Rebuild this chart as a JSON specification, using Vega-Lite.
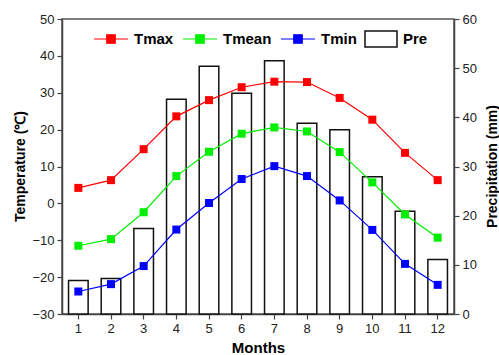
{
  "$schema": "https://vega.github.io/schema/vega-lite/v6.json",
  "autosize": {"type": "none"},
  "padding": {"left": 62, "top": 19, "right": 45, "bottom": 41},
  "width": 392,
  "height": 295,
  "background": "white",
  "config": {
    "view": {"stroke": "#555555", "strokeWidth": 1.5},
    "font": "Liberation Sans",
    "axis": {
      "domainColor": "#444444",
      "domainWidth": 1.5,
      "tickColor": "#444444",
      "tickWidth": 1.2,
      "tickSize": 5,
      "grid": false,
      "labelFont": "Liberation Sans",
      "labelFontSize": 13,
      "labelColor": "#222222",
      "labelPadding": 3,
      "titleFont": "Liberation Sans",
      "titleFontSize": 14,
      "titleFontWeight": "bold",
      "titleColor": "#000000"
    },
    "legend": {
      "labelFont": "Liberation Sans",
      "labelFontSize": 15,
      "labelFontWeight": "bold",
      "labelColor": "#000000"
    }
  },
  "data": {
    "values": [
      {"month": 1, "Tmax": 4.2, "Tmean": -11.5, "Tmin": -23.9, "Pre": 6.8},
      {"month": 2, "Tmax": 6.3, "Tmean": -9.7, "Tmin": -21.9, "Pre": 7.2},
      {"month": 3, "Tmax": 14.7, "Tmean": -2.4, "Tmin": -17.0, "Pre": 17.4},
      {"month": 4, "Tmax": 23.6, "Tmean": 7.4, "Tmin": -7.1, "Pre": 43.7},
      {"month": 5, "Tmax": 28.0, "Tmean": 14.0, "Tmin": 0.1, "Pre": 50.4},
      {"month": 6, "Tmax": 31.5, "Tmean": 18.9, "Tmin": 6.6, "Pre": 44.9},
      {"month": 7, "Tmax": 33.0, "Tmean": 20.6, "Tmin": 10.1, "Pre": 51.5},
      {"month": 8, "Tmax": 32.9, "Tmean": 19.5, "Tmin": 7.4, "Pre": 38.8},
      {"month": 9, "Tmax": 28.6, "Tmean": 13.9, "Tmin": 0.8, "Pre": 37.5},
      {"month": 10, "Tmax": 22.7, "Tmean": 5.7, "Tmin": -7.2, "Pre": 27.9},
      {"month": 11, "Tmax": 13.7, "Tmean": -3.0, "Tmin": -16.4, "Pre": 20.9},
      {"month": 12, "Tmax": 6.3, "Tmean": -9.3, "Tmin": -22.1, "Pre": 11.1}
    ]
  },
  "encoding": {
    "x": {
      "field": "month",
      "type": "ordinal",
      "scale": {"type": "band", "paddingInner": 0.4, "paddingOuter": 0.2},
      "axis": {"title": "Months", "labelAngle": 0, "titleFontSize": 15, "titlePadding": 5}
    }
  },
  "layer": [
    {
      "mark": {"type": "bar", "fill": "white", "strokeWidth": 1.5},
      "encoding": {
        "y": {
          "field": "Pre",
          "type": "quantitative",
          "scale": {"domain": [0, 60], "nice": false},
          "axis": {
            "orient": "right",
            "title": "Precipitation (mm)",
            "values": [0, 10, 20, 30, 40, 50, 60],
            "titleAngle": 270,
            "titleX": 38,
            "titleY": 147,
            "titleAlign": "center",
            "titleBaseline": "middle"
          }
        },
        "stroke": {
          "datum": "Pre",
          "type": "nominal",
          "scale": {"range": ["#111111"]},
          "legend": {
            "title": null,
            "orient": "none",
            "legendX": 302,
            "legendY": 3,
            "symbolType": "M-1,-0.5H1V0.5H-1Z",
            "symbolSize": 1024,
            "symbolFillColor": "white",
            "symbolStrokeWidth": 1.5,
            "labelOffset": 5
          }
        }
      }
    },
    {
      "transform": [{"fold": ["Tmax", "Tmean", "Tmin"], "as": ["series", "temp"]}],
      "encoding": {
        "y": {
          "field": "temp",
          "type": "quantitative",
          "scale": {"domain": [-30, 50], "nice": false},
          "axis": {
            "orient": "left",
            "title": "Temperature (℃)",
            "values": [-30, -20, -10, 0, 10, 20, 30, 40, 50],
            "titleAngle": 270,
            "titleX": -42,
            "titleY": 147,
            "titleAlign": "center",
            "titleBaseline": "middle"
          }
        },
        "color": {
          "field": "series",
          "type": "nominal",
          "scale": {"domain": ["Tmax", "Tmean", "Tmin"], "range": ["#ff0000", "#00ee00", "#0000ff"]},
          "legend": {
            "title": null,
            "orient": "none",
            "direction": "horizontal",
            "legendX": 31,
            "legendY": 2,
            "symbolType": "M-1,0H1M-0.25,-0.25H0.25V0.25H-0.25Z",
            "symbolSize": 1156,
            "symbolStrokeWidth": 1.2,
            "labelOffset": 5,
            "columnPadding": 6
          }
        }
      },
      "layer": [
        {"mark": {"type": "line", "strokeWidth": 1.2}},
        {"mark": {"type": "point", "shape": "square", "filled": true, "size": 64, "opacity": 1}}
      ]
    }
  ],
  "resolve": {"scale": {"y": "independent"}}
}
